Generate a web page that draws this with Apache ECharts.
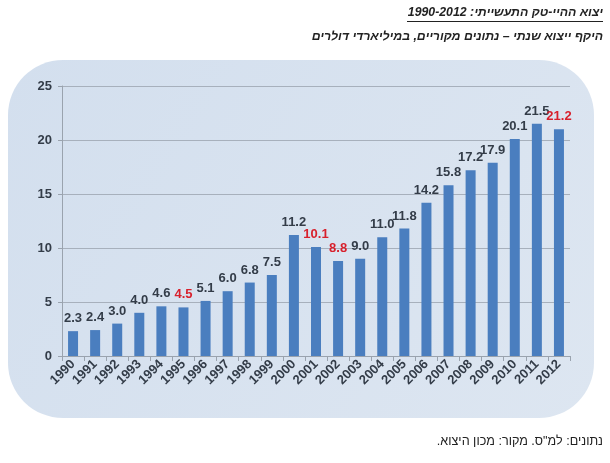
<!DOCTYPE html>
<html>
<head>
<meta charset="utf-8">
<script src="https://cdn.jsdelivr.net/npm/echarts@6/dist/echarts.min.js"></script>
<style>
html, body { margin: 0; padding: 0; background: #fff; }
#main { width: 610px; height: 463px; }
</style>
</head>
<body>
<div id="main" dir="rtl"></div>
<script>
var years = ['1990', '1991', '1992', '1993', '1994', '1995', '1996', '1997', '1998', '1999', '2000', '2001',
    '2002', '2003', '2004', '2005', '2006', '2007', '2008', '2009', '2010', '2011', '2012'];
var exportValues = [2.3, 2.4, 3.0, 4.0, 4.6, 4.5, 5.1, 6.0, 6.8, 7.5, 11.2, 10.1,
    8.8, 9.0, 11.0, 11.8, 14.2, 15.8, 17.2, 17.9, 20.1, 21.5, 21.0];
var labelValues = ['2.3', '2.4', '3.0', '4.0', '4.6', '4.5', '5.1', '6.0', '6.8', '7.5', '11.2', '10.1',
    '8.8', '9.0', '11.0', '11.8', '14.2', '15.8', '17.2', '17.9', '20.1', '21.5', '21.2'];
// years whose label is printed in red
var redYears = ['1995', '2001', '2002', '2012'];

var titleText = 'יצוא ההיי-טק התעשייתי: 1990-2012';
var subText = 'היקף ייצוא שנתי – נתונים מקוריים, במיליארדי דולרים';
var footText = 'נתונים: למ"ס. מקור: מכון היצוא.';

var myChart = echarts.init(document.getElementById('main'));

var barData = exportValues.map(function (v, i) {
    var red = redYears.indexOf(years[i]) >= 0;
    return {
        value: v,
        label: {
            formatter: labelValues[i],
            color: red ? '#d8202c' : '#333c48'
        }
    };
});

var option = {
    animation: false,
    textStyle: { fontFamily: '"Liberation Sans", Arial, sans-serif' },
    graphic: [
        {
            type: 'rect',
            z: -10,
            shape: { x: 8, y: 60, width: 586, height: 358, r: 55 },
            style: {
                fill: new echarts.graphic.LinearGradient(0, 0, 1, 1, [
                    { offset: 0, color: '#d3dfee' },
                    { offset: 1, color: '#dde6f1' }
                ])
            }
        },
        {
            type: 'text',
            right: 7,
            top: 7,
            style: {
                text: titleText,
                font: 'italic bold 12.3px "Liberation Sans", Arial, sans-serif',
                fill: '#222'
            }
        },
        {
            type: 'line',
            shape: { x1: 407, y1: 21.5, x2: 603, y2: 21.5 },
            style: { stroke: '#222', lineWidth: 1 }
        },
        {
            type: 'text',
            right: 7,
            top: 31,
            style: {
                text: subText,
                font: 'italic bold 12.3px "Liberation Sans", Arial, sans-serif',
                fill: '#222'
            }
        },
        {
            type: 'text',
            right: 7,
            top: 435,
            style: {
                text: footText,
                font: '12.6px "Liberation Sans", Arial, sans-serif',
                fill: '#222'
            }
        }
    ],
    grid: {
        left: 62,
        right: 40,
        top: 86,
        bottom: 107
    },
    xAxis: {
        type: 'category',
        data: years,
        axisLine: { lineStyle: { color: '#9aa3ae' } },
        axisTick: { show: true, lineStyle: { color: '#9aa3ae' } },
        axisLabel: {
            interval: 0,
            rotate: 45,
            fontWeight: 'bold',
            fontSize: 13,
            color: '#333c48',
            margin: 6
        }
    },
    yAxis: {
        type: 'value',
        min: 0,
        max: 25,
        interval: 5,
        axisLine: { show: true, lineStyle: { color: '#9aa3ae' } },
        axisTick: { show: true, length: 4, lineStyle: { color: '#9aa3ae' } },
        splitLine: { lineStyle: { color: '#a7b0bc' } },
        axisLabel: {
            fontWeight: 'bold',
            fontSize: 13,
            color: '#333c48',
            margin: 10
        }
    },
    series: [
        {
            type: 'bar',
            data: barData,
            barWidth: 10,
            itemStyle: { color: '#4a7ebf' },
            label: {
                show: true,
                position: 'top',
                distance: 6,
                fontWeight: 'bold',
                fontSize: 13
            }
        }
    ]
};

myChart.setOption(option);
</script>
</body>
</html>
